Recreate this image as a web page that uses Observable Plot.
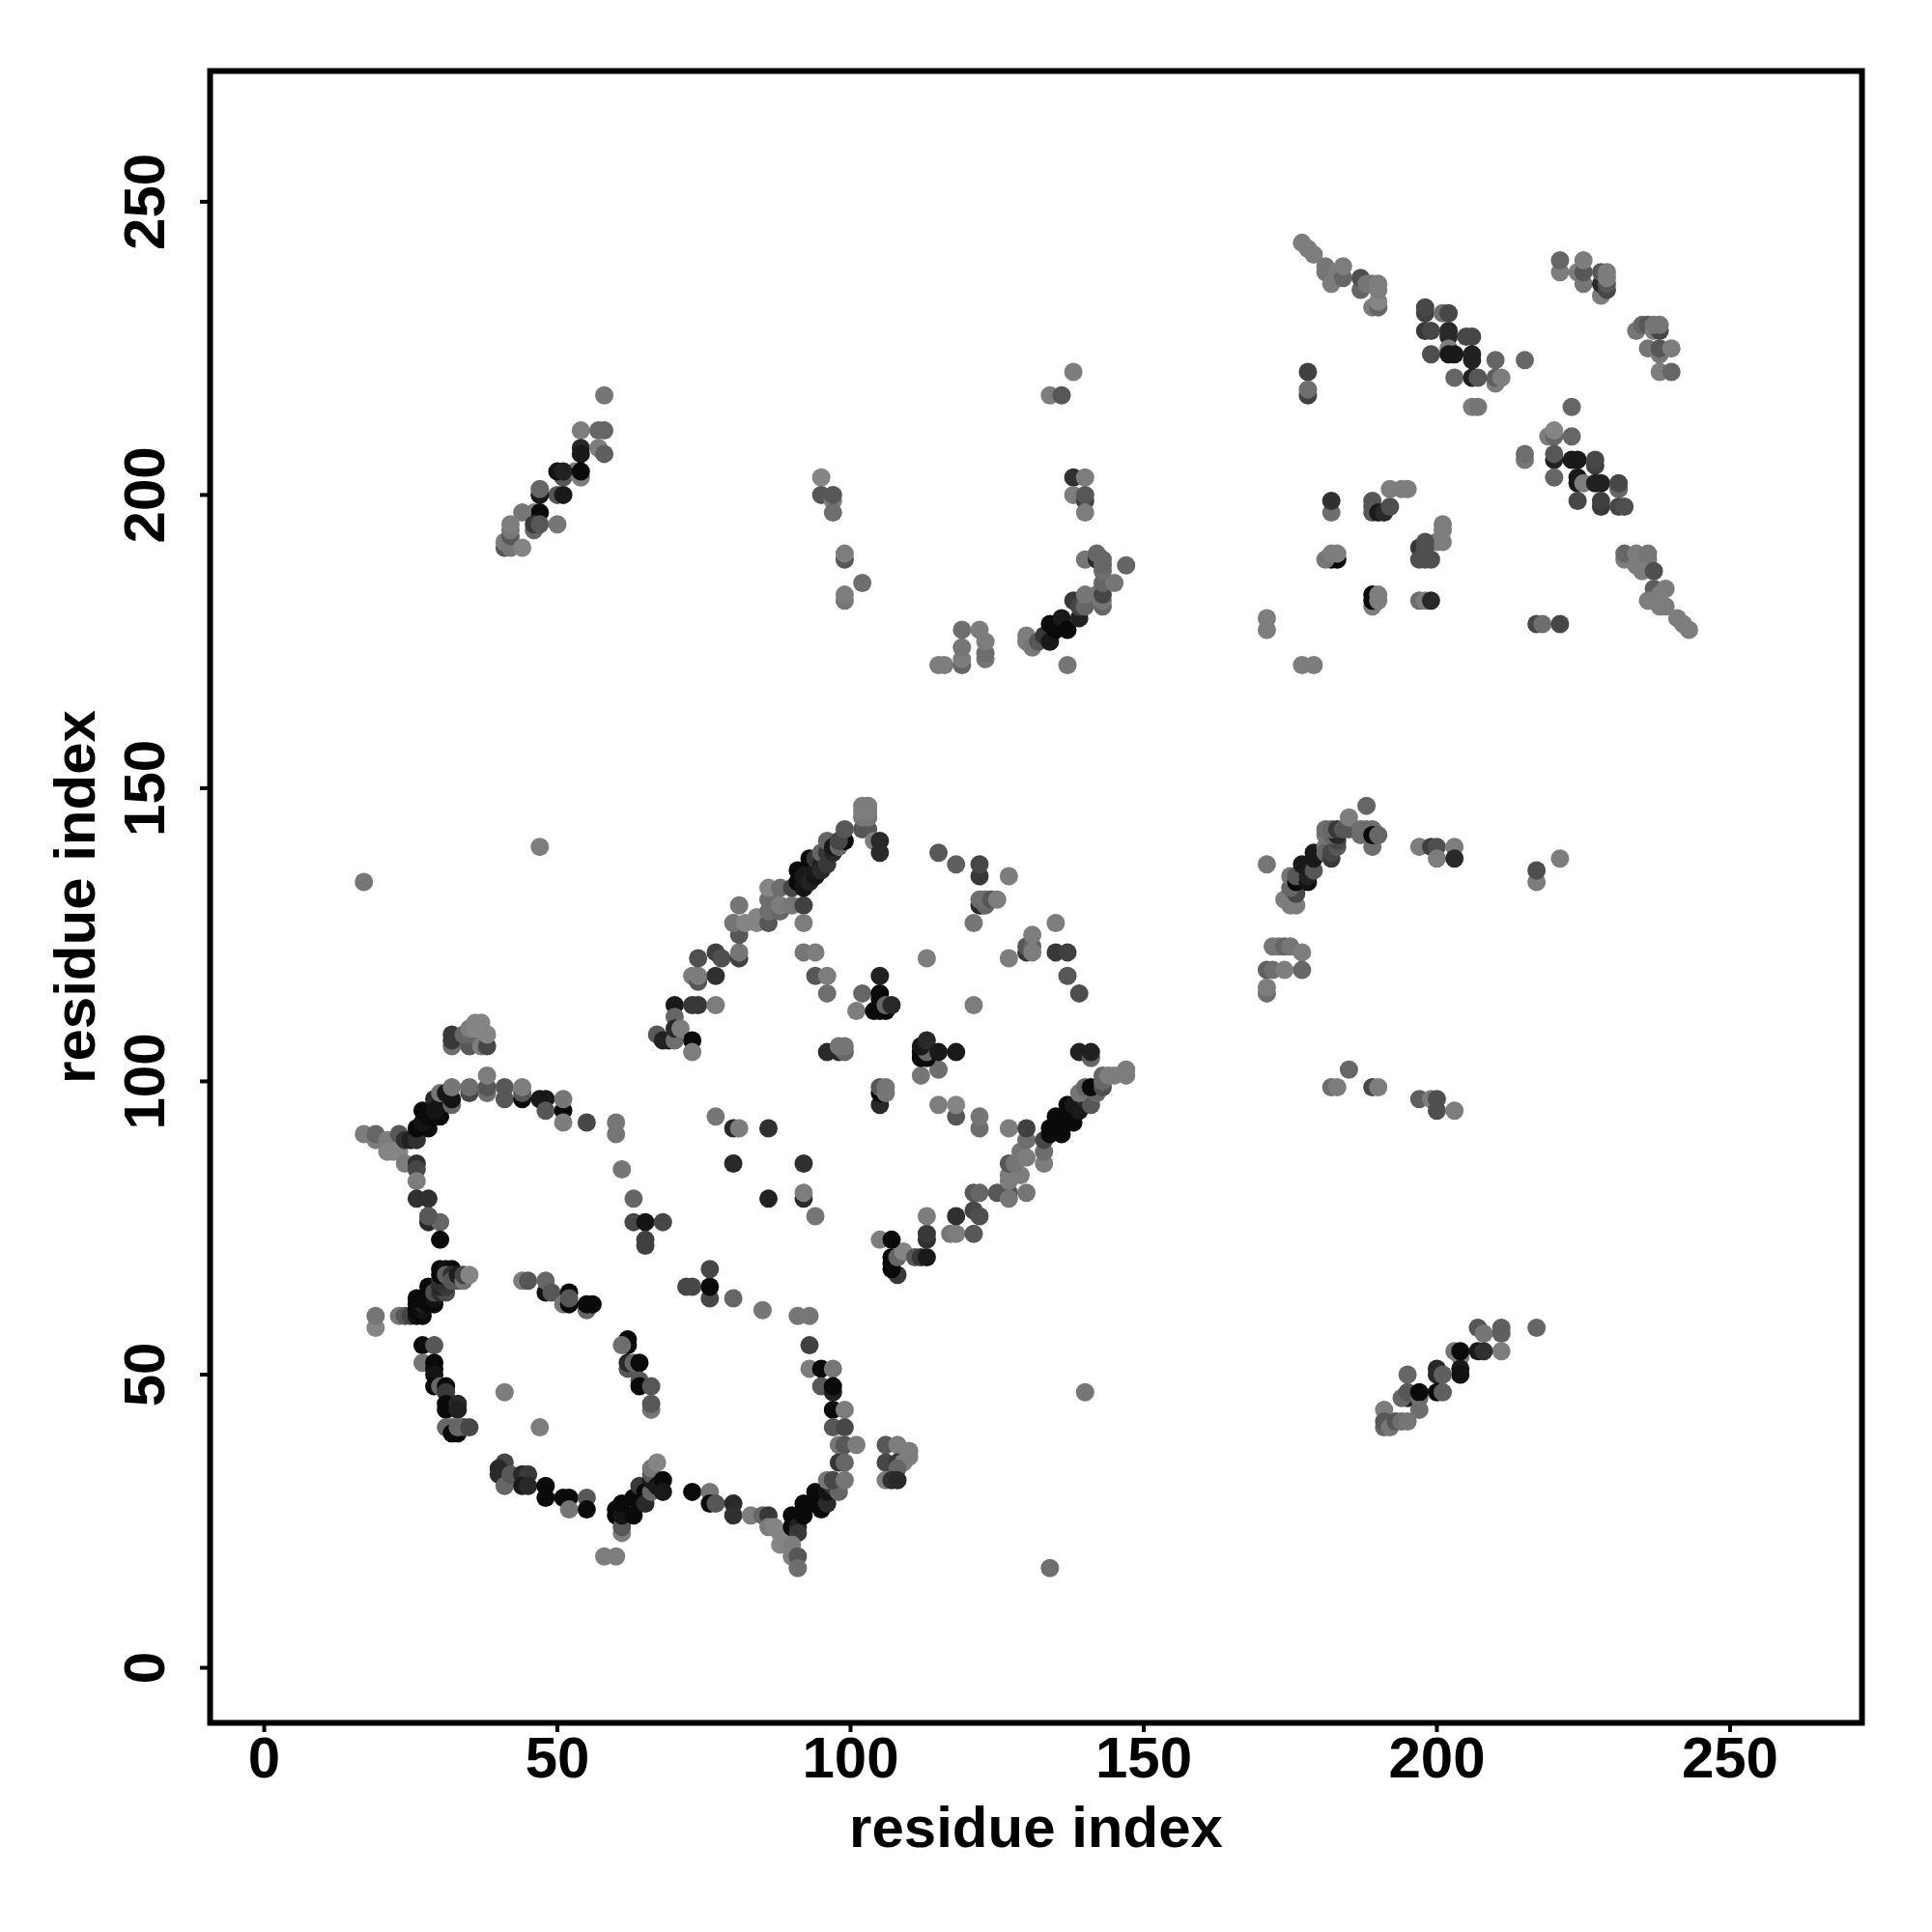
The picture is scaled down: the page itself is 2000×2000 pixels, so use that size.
<!DOCTYPE html>
<html><head><meta charset="utf-8">
<style>html,body{margin:0;padding:0;background:#fff}svg{display:block}</style>
<script src="https://cdn.jsdelivr.net/npm/d3@7"></script>
<script src="https://cdn.jsdelivr.net/npm/@observablehq/plot@0.6"></script>
</head><body><div id="c"></div>
<script>
// each contact: [residue i, residue j, gray level]
const innerArmUpper = [[19,58,128],[19,60,112],[23,60,112],[24,60,80],[25,60,60],[26,60,10],[27,60,0],[26,61,0],[27,61,10],[26,62,0],[27,62,20],[26,63,0],[28,62,0],[29,62,0],[28,64,0],[28,65,0],[29,63,10],[29,64,70],[30,64,40],[31,64,70],[30,65,30],[31,65,50],[30,66,40],[30,67,0],[30,68,0],[31,68,10],[32,68,0],[31,67,90],[32,67,40],[32,66,80],[33,66,80],[33,67,20],[34,66,110],[34,67,60],[35,67,128]];
const innerArmLower = [[27,55,0],[29,55,80],[27,52,112],[29,52,0],[29,51,0],[29,50,10],[29,48,0],[30,48,96],[31,48,0],[31,47,50],[31,45,0],[31,44,0],[33,45,32],[33,44,24],[31,41,96],[32,41,96],[32,40,0],[33,40,0],[34,41,64],[33,41,96],[35,41,64]];
const arcTopLeft = [[17,91,120],[19,90,120],[19,91,96],[21,90,120],[21,88,128],[22,88,128],[23,88,128],[24,86,120],[23,91,80],[24,90,40],[25,90,24],[26,90,40],[26,92,0],[28,92,0],[27,93,10],[27,95,0],[28,94,0],[30,94,0],[29,97,32],[30,96,10],[29,95,10],[32,96,96],[30,98,112],[31,98,16],[32,97,10],[32,99,112],[35,98,64],[35,99,104],[38,98,104],[38,99,80],[38,101,120],[41,97,80],[41,99,80],[44,97,0],[44,98,80],[44,99,120],[47,97,16],[48,97,16],[48,95,80],[51,95,0],[51,93,120],[51,97,112],[55,93,64],[60,91,112],[60,93,112],[61,85,112],[63,80,96],[26,86,40],[26,85,64],[26,83,120],[26,80,40],[28,80,40],[28,76,32],[28,77,80],[30,76,96],[30,73,0],[28,77,80]];
const sideCluster = [[32,106,104],[32,107,48],[32,108,48],[35,106,80],[34,108,96],[35,108,96],[35,109,120],[36,109,128],[36,110,128],[37,110,128],[37,106,120],[38,106,64],[38,108,128]];
const bottomArc = [[41,35,64],[40,34,32],[40,33,32],[41,31,96],[42,33,80],[44,33,32],[45,33,48],[44,31,16],[45,31,32],[48,31,0],[48,29,0],[51,29,0],[52,29,0],[52,27,112],[55,29,80],[55,27,0],[58,19,120],[60,19,120],[60,27,0],[60,26,0],[61,23,120],[61,24,80],[61,26,10],[61,28,0],[63,26,0],[63,29,0],[64,28,0],[64,31,48],[65,30,0],[65,28,32],[66,30,96],[66,32,16],[66,33,80],[66,34,112],[67,35,128],[67,31,16],[68,32,0],[68,30,16],[73,30,0],[76,30,112],[76,28,0],[77,28,80],[80,28,32],[80,26,40],[83,26,120],[85,26,96],[86,26,48],[86,24,120],[87,24,128],[88,23,128],[88,21,128],[89,22,128],[90,26,0],[90,24,0],[91,24,24],[91,23,48],[90,21,120],[90,19,120],[91,19,80],[91,17,104],[92,26,0],[92,28,0],[94,28,0],[95,27,0],[94,30,0],[96,28,32],[96,30,10],[97,31,48],[98,30,96]];
const innerColumn = [[62,56,0],[62,55,0],[61,55,104],[62,51,80],[62,52,32],[63,52,96],[64,52,0],[64,49,80],[64,48,0],[66,48,80],[66,44,112],[66,45,80]];
const innerTop = [[44,66,120],[45,66,80],[48,64,10],[48,66,96],[49,64,80],[52,64,0],[51,62,112],[52,62,0],[52,63,80],[55,61,96],[55,62,0],[56,62,0],[41,47,120],[47,41,120]];
const innerMiddle = [[72,65,64],[73,65,64],[76,63,64],[76,65,0],[76,68,64],[80,63,96],[85,61,112],[91,60,112],[93,60,112],[93,55,56],[93,51,120],[95,51,0],[97,51,112],[95,48,80],[97,47,24],[97,48,0],[97,44,0],[99,44,120],[97,41,80],[99,41,64],[98,38,112],[99,38,80],[101,38,120],[98,35,48],[99,35,96],[96,32,112],[97,32,64],[99,32,112],[63,76,64],[65,76,10],[68,76,64],[65,73,56],[65,72,56]];
const sideStrand = [[106,38,80],[108,38,120],[109,37,120],[110,37,120],[110,36,120],[106,35,64],[108,35,48],[109,35,120],[108,34,96],[106,32,120],[107,32,40],[108,32,32]];
const upperDiagonal = [[70,113,16],[70,111,96],[67,108,80],[68,107,24],[69,107,24],[70,107,104],[70,109,32],[71,109,120],[73,107,0],[73,105,120],[73,113,48],[74,113,48],[77,113,120],[73,118,120],[74,117,80],[74,118,120],[77,118,40],[74,121,72],[77,122,56],[78,121,72],[81,121,56],[81,122,112],[81,125,80],[80,127,112],[82,127,128],[84,127,128],[84,128,128],[81,130,112],[86,127,80],[86,129,104],[86,131,104],[88,129,96],[88,130,120],[90,130,112],[92,130,56],[92,127,120],[86,133,128],[88,133,104],[90,133,64],[91,134,0],[91,136,0],[92,133,10],[92,135,16],[93,136,16],[93,134,24],[93,138,0],[94,135,10],[94,136,16],[94,138,48],[95,137,24],[95,136,32],[95,139,96],[96,139,48],[96,137,48],[96,141,96],[97,139,32],[97,140,16],[98,140,96],[99,141,0],[98,141,64],[99,143,80],[102,143,80],[103,143,80],[102,145,112],[103,145,112],[102,146,120],[103,146,120],[102,147,120],[103,147,120],[104,141,120],[105,141,32],[105,139,32]];
const rightDiagonal = [[107,69,0],[107,70,0],[108,67,48],[107,68,0],[108,70,96],[109,71,128],[111,70,80],[112,70,48],[113,70,16],[105,73,120],[107,73,0],[113,73,40],[113,74,48],[113,77,120],[117,74,112],[118,74,120],[118,77,40],[121,74,80],[121,78,64],[122,77,72],[121,81,80],[122,81,96],[125,81,80],[127,81,80],[127,80,112],[130,81,112],[127,83,120],[127,84,120],[129,84,120],[127,86,80],[128,86,112],[129,88,112],[130,87,120],[133,86,120],[133,88,104],[130,90,104],[133,90,64],[135,92,48],[134,91,0],[134,92,0],[136,91,0],[136,93,0],[135,94,0],[138,93,0],[137,94,0],[137,96,0],[138,96,16],[139,95,16],[140,97,32],[141,96,80],[139,98,112],[140,99,96],[142,98,96],[141,99,0],[143,99,72],[143,100,96],[139,105,24],[141,104,96],[141,105,24],[143,101,96],[144,101,120],[145,101,120],[147,101,120],[147,102,120]];
const centerLeft = [[77,94,112],[80,92,32],[81,92,120],[86,92,40],[80,86,32],[92,86,40],[86,80,24],[92,80,32],[92,81,120],[94,77,112],[92,122,112],[94,122,120],[94,118,80],[96,118,120],[96,115,104],[102,115,96],[101,112,120],[105,118,24],[104,112,0],[105,112,0],[106,112,0],[105,114,0],[105,115,0],[106,113,96],[107,113,32],[96,105,32],[98,105,32],[99,105,96],[98,106,112],[99,106,112],[105,96,32],[105,98,0],[105,99,80],[106,98,112],[106,99,112]];
const centerRight = [[112,101,112],[115,102,104],[112,104,0],[112,105,0],[113,104,0],[113,105,96],[112,106,16],[113,107,32],[115,105,16],[118,105,16],[115,96,120],[118,94,80],[118,96,128],[122,92,104],[122,94,112],[127,92,120],[130,92,56],[113,121,120],[121,113,120],[121,127,112],[115,139,80],[118,137,88],[122,135,48],[122,137,64],[127,135,120],[122,130,32],[122,131,104],[123,130,96],[123,131,104],[124,131,80],[125,131,120],[127,121,120],[130,122,48],[130,123,80],[131,123,96],[131,122,120],[131,125,120],[135,127,120],[135,122,48],[137,122,56],[137,118,80],[139,115,72]];
const upperLeftHelix = [[58,217,112],[54,211,120],[57,211,96],[58,211,96],[54,208,32],[54,207,16],[57,208,120],[58,207,88],[54,203,120],[51,203,80],[53,204,120],[50,204,8],[51,204,24],[54,204,0],[50,200,80],[51,200,16],[47,200,16],[47,201,96],[46,197,120],[47,197,0],[44,197,112],[46,194,96],[46,195,48],[47,195,80],[50,195,112],[41,191,80],[41,192,120],[42,191,112],[42,193,80],[42,194,112],[42,195,120],[44,191,128]];
const upperMiddle = [[95,203,128],[95,200,80],[97,199,120],[97,197,104],[97,200,80],[99,189,80],[99,190,120],[102,185,104],[99,182,112],[99,183,120],[115,171,120],[116,171,120],[119,171,96],[119,172,120],[119,174,112],[119,177,104],[122,177,120],[123,172,112],[123,173,104],[123,175,120],[137,171,112],[138,221,120],[134,217,120],[136,217,80],[138,203,40],[140,203,120],[138,200,120],[140,199,56],[140,200,80],[140,197,120]];
const upperArc = [[130,176,120],[130,175,120],[131,174,112],[132,175,80],[133,176,48],[134,175,16],[134,178,0],[135,177,0],[136,179,16],[137,177,0],[138,182,48],[139,179,24],[139,181,64],[140,181,96],[140,183,112],[142,183,112],[143,181,96],[143,182,112],[143,183,64],[143,185,96],[145,185,112],[140,189,112],[142,189,32],[143,187,104],[143,188,96],[143,189,96],[142,190,96],[147,188,96]];
const topLeftStrand = [[177,243,120],[178,242,120],[179,241,120],[181,238,112],[181,239,112],[182,236,120],[183,238,120],[184,237,96],[184,239,120],[187,235,96],[187,237,72],[188,236,112],[189,236,112],[189,232,120],[190,232,96],[190,233,128],[190,235,120],[190,236,120]];
const topBlock = [[198,231,56],[198,232,64],[201,231,104],[202,231,64],[198,228,48],[199,228,64],[202,227,32],[202,228,32],[205,227,64],[206,227,64],[199,224,72],[202,225,120],[202,224,16],[203,224,16],[206,223,24],[206,224,24],[210,223,96],[215,223,96],[203,220,96],[206,220,24],[207,220,80],[210,219,120],[210,220,88],[211,220,120],[206,215,120],[207,215,112],[178,221,56],[178,217,56],[178,218,104]];
const topRight = [[221,238,120],[221,240,96],[224,238,120],[225,236,112],[225,238,80],[225,240,120],[228,234,120],[228,236,32],[229,235,64],[229,236,80],[228,238,80],[229,237,120],[229,238,120],[234,228,112],[235,229,96],[236,229,80],[237,228,120],[238,228,64],[237,229,112],[238,229,112],[236,225,112],[238,224,112],[238,225,80],[240,225,120],[238,221,120],[240,221,96]];
const secondDiagonal = [[223,215,96],[219,210,120],[220,210,96],[220,211,128],[223,210,96],[215,206,112],[215,207,104],[220,206,24],[220,207,80],[223,206,16],[224,206,16],[227,205,56],[227,206,64],[220,203,96],[224,202,16],[224,203,16],[225,202,120],[227,202,24],[228,202,24],[231,201,96],[231,202,64],[224,199,64],[228,198,48],[228,199,56],[231,198,64],[232,198,72]];
const tailDiagonal = [[232,189,120],[232,190,96],[234,188,120],[234,190,120],[236,189,112],[236,190,112],[235,187,120],[237,187,72],[237,184,88],[236,182,120],[239,184,120],[238,181,120],[239,181,120],[238,183,120],[241,179,120],[242,178,120],[243,177,120]];
const centerGrid = [[182,197,104],[182,199,40],[189,197,80],[189,198,80],[189,199,80],[190,197,16],[191,197,32],[192,198,72],[192,201,120],[194,201,120],[195,201,120],[201,195,120],[201,194,120],[200,192,120],[201,192,120],[197,191,48],[198,192,72],[198,191,72],[197,189,72],[198,189,72],[199,189,72],[182,189,0],[183,189,0],[181,189,112],[182,190,120],[183,190,120],[189,181,120],[189,182,0],[189,183,0],[190,182,120],[190,183,120],[197,182,104],[198,182,120],[199,182,32],[171,177,120],[171,179,120],[177,171,120],[179,171,120],[217,178,64],[218,178,104],[221,178,64]];
const midRightArc = [[171,137,112],[174,131,120],[175,130,120],[176,130,120],[175,132,120],[176,132,64],[175,133,96],[175,135,112],[176,134,0],[176,135,80],[178,134,8],[178,135,24],[177,137,16],[179,136,80],[179,138,16],[179,139,16],[181,140,112],[181,139,96],[182,138,48],[182,139,64],[183,140,80],[183,141,64],[181,142,112],[182,142,96],[183,142,32],[181,143,104],[182,143,96],[183,143,48],[184,143,80],[185,143,80],[185,145,120],[188,147,96],[187,142,104],[187,143,104],[188,143,104],[189,140,104],[189,143,104],[189,142,0],[190,142,96]];
const midRightLoose = [[197,140,120],[199,140,56],[200,140,72],[203,140,120],[200,138,120],[203,138,32],[217,134,120],[217,136,72],[221,138,120],[172,123,112],[173,123,112],[174,123,96],[175,123,112],[177,122,120],[171,119,88],[172,119,104],[174,119,120],[177,119,96],[171,115,104],[171,116,120],[185,102,96],[182,99,104],[183,99,120],[189,99,64],[190,99,120],[197,97,88],[199,97,120],[200,97,72],[200,95,72],[203,95,120]];
const lowerRightHelix = [[217,58,96],[207,58,80],[208,57,112],[211,57,88],[211,58,88],[211,54,120],[207,54,16],[208,54,40],[203,54,112],[204,53,120],[204,54,0],[204,51,16],[204,50,8],[200,51,32],[200,50,32],[201,50,88],[195,50,96],[195,46,24],[194,46,96],[195,47,80],[197,46,104],[197,47,0],[200,47,0],[201,47,88],[197,44,104],[191,44,120],[191,41,96],[191,42,80],[192,41,112],[193,42,80],[194,42,104],[195,42,112]];
const loners = [[17,134,112],[47,140,120],[134,17,104],[140,47,112]];

const contacts = [innerArmUpper, innerArmLower, arcTopLeft, sideCluster, bottomArc, innerColumn, innerTop, innerMiddle, sideStrand, upperDiagonal, rightDiagonal, centerLeft, centerRight, upperLeftHelix, upperMiddle, upperArc, topLeftStrand, topBlock, topRight, secondDiagonal, tailDiagonal, centerGrid, midRightArc, midRightLoose, lowerRightHelix, loners].flat();
const tickValues = [0, 50, 100, 150, 200, 250];
const font = "'Liberation Sans', Arial, sans-serif";

const chart = Plot.plot({
  width: 2000, height: 2000,
  marginLeft: 217, marginRight: 73, marginTop: 73, marginBottom: 217,
  style: {background: "#fff", fontFamily: font},
  x: {domain: [-9.23, 272.5]},
  y: {domain: [-9.39, 272.3]},
  color: {type: "linear", domain: [0, 255], range: ["#0a0a0a", "#fff"]},
  marks: [
    Plot.dot(contacts, {x: d => d[0], y: d => d[1], fill: d => d[2], r: 9.5, stroke: "none"}),
    Plot.frame({stroke: "#000", strokeWidth: 6}),
    Plot.axisX({ticks: tickValues, tickFormat: d => d, tickSize: 10, tickPadding: 4, strokeWidth: 4,
      fontSize: 60, fontWeight: 700, fontFamily: font, fill: "#000", stroke: "#000",
      label: "residue index", labelAnchor: "center", labelArrow: "none", labelOffset: 128}),
    Plot.axisY({ticks: tickValues, tickFormat: d => d, tickSize: 10, tickPadding: 38, strokeWidth: 4,
      tickRotate: -90, textAnchor: "middle",
      fontSize: 60, fontWeight: 700, fontFamily: font, fill: "#000", stroke: "#000",
      label: "residue index", labelAnchor: "center", labelArrow: "none", labelOffset: 162})
  ]
});
document.getElementById("c").appendChild(chart);
</script></body></html>
